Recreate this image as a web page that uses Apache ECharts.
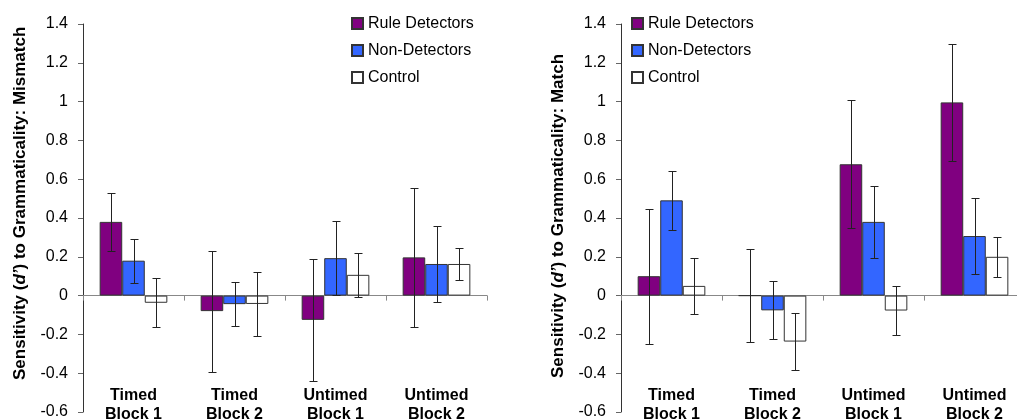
<!DOCTYPE html>
<html>
<head>
<meta charset="utf-8">
<script src="https://cdn.jsdelivr.net/npm/echarts@6/dist/echarts.min.js"></script>
<style>
html,body{margin:0;padding:0;background:#fff;}
#chart{width:1017px;height:419px;}
</style>
</head>
<body>
<div id="chart"></div>
<script>
// ---- data ----
var categories = ['Timed\nBlock 1', 'Timed\nBlock 2', 'Untimed\nBlock 1', 'Untimed\nBlock 2'];
var groups = ['Rule Detectors', 'Non-Detectors', 'Control'];
var yTicks = { min: -0.6, max: 1.4, interval: 0.2 };

// Mismatch (left panel)
var mismatchRule    = [0.38, -0.08, -0.125, 0.197];
var mismatchNon     = [0.18, -0.044, 0.193, 0.163];
var mismatchControl = [-0.037, -0.043, 0.107, 0.163];
var mismatchRuleErr    = [0.15, 0.312, 0.315, 0.357];
var mismatchNonErr     = [0.113, 0.113, 0.19, 0.195];
var mismatchControlErr = [0.127, 0.164, 0.115, 0.084];

// Match (right panel)
var matchRule    = [0.10, 0.0, 0.677, 0.996];
var matchNon     = [0.491, -0.076, 0.38, 0.307];
var matchControl = [0.05, -0.237, -0.077, 0.20];
var matchRuleErr    = [0.347, 0.238, 0.33, 0.30];
var matchNonErr     = [0.152, 0.15, 0.185, 0.194];
var matchControlErr = [0.146, 0.145, 0.125, 0.103];

var colors = ['#800080', '#3366FF', '#FFFFFF'];
var FONT = 'Liberation Sans, Arial, sans-serif';
var GAP = 0.33;

function errData(means, errs) {
  return means.map(function (m, i) { return [i, m - errs[i], m + errs[i]]; });
}

function errRender(idx) {
  return function (params, api) {
    var cat = api.value(0), lo = api.value(1), hi = api.value(2);
    var w = api.size([1, 0])[0] * (1 - GAP) / 3;
    var x = api.coord([cat, 0])[0] + (idx - 1) * w;
    x = Math.round(x) + 0.5;
    var yLo = Math.round(api.coord([cat, lo])[1]) + 0.5;
    var yHi = Math.round(api.coord([cat, hi])[1]) + 0.5;
    var cap = 4;
    var st = { stroke: '#222', lineWidth: 1 };
    return {
      type: 'group',
      children: [
        { type: 'line', shape: { x1: x, y1: yLo, x2: x, y2: yHi }, style: st },
        { type: 'line', shape: { x1: x - cap, y1: yHi, x2: x + cap, y2: yHi }, style: st },
        { type: 'line', shape: { x1: x - cap, y1: yLo, x2: x + cap, y2: yLo }, style: st }
      ]
    };
  };
}

// axis drawn on the zero line (line + ticks only)
function makeXLine(gi) {
  return {
    type: 'category', gridIndex: gi, data: categories,
    axisLine: { onZero: true, lineStyle: { color: '#888', width: 1 } },
    axisTick: { show: true, length: 5, lineStyle: { color: '#888' } },
    axisLabel: { show: false },
    splitLine: { show: false }
  };
}
// label-only axis near the bottom of the plot
function makeXLabels(gi) {
  return {
    type: 'category', gridIndex: gi, data: categories, position: 'bottom', offset: -26,
    axisLine: { show: false, onZero: false }, axisTick: { show: false },
    axisLabel: { show: true, interval: 0, hideOverlap: false, margin: 0, color: '#000',
      fontFamily: FONT, fontSize: 16, fontWeight: 'bold', lineHeight: 19 },
    splitLine: { show: false }
  };
}
function makeY(gi) {
  return {
    type: 'value', gridIndex: gi, min: yTicks.min, max: yTicks.max, interval: yTicks.interval,
    axisLine: { show: true, onZero: false, lineStyle: { color: '#333', width: 1 } },
    axisTick: { show: true, length: 5, lineStyle: { color: '#666' } },
    axisLabel: { margin: 15, color: '#000', fontFamily: FONT, fontSize: 16,
      formatter: function (v) { return String(Math.round(v * 10) / 10); } },
    splitLine: { show: false }
  };
}
function bars(gi, arrs) {
  return arrs.map(function (d, k) {
    return {
      type: 'bar', name: groups[k], xAxisIndex: gi, yAxisIndex: gi, data: d,
      barGap: '0%', barCategoryGap: (GAP * 100) + '%',
      itemStyle: { color: colors[k], borderColor: '#333', borderWidth: 1 },
      emphasis: { disabled: true }, animation: false
    };
  });
}
function errs(gi, means, es) {
  return means.map(function (m, k) {
    return {
      type: 'custom', name: 'err' + gi + k, xAxisIndex: gi, yAxisIndex: gi,
      renderItem: errRender(k), data: errData(m, es[k]), z: 5, animation: false, silent: true
    };
  });
}
function legend(left) {
  return {
    orient: 'vertical', left: left, top: 15, padding: 0, data: groups, itemWidth: 11, itemHeight: 11,
    itemGap: 10, icon: 'rect', selectedMode: false,
    textStyle: { fontFamily: FONT, fontSize: 16, color: '#000', lineHeight: 17 }
  };
}
var richT = {
  b: { fontFamily: FONT, fontSize: 17, fontWeight: 'bold', fill: '#000' },
  i: { fontFamily: FONT, fontSize: 17, fontWeight: 'bold', fontStyle: 'italic', fill: '#000' }
};

var chart = echarts.init(document.getElementById('chart'), null, { renderer: 'canvas' });
chart.setOption({
  animation: false,
  backgroundColor: '#fff',
  grid: [
    { left: 83, top: 24, width: 404, height: 388, outerBoundsMode: 'none' },
    { left: 621, top: 24, width: 404, height: 388, outerBoundsMode: 'none' }
  ],
  xAxis: [makeXLine(0), makeXLine(1), makeXLabels(0), makeXLabels(1)],
  yAxis: [makeY(0), makeY(1)],
  legend: [legend(351), legend(631)],
  graphic: [
    { type: 'text', x: 20, y: 380, rotation: Math.PI / 2,
      style: { text: '{b|Sensitivity (}{i|d’}{b|) to Grammaticality: Mismatch}', align: 'left', verticalAlign: 'middle', rich: richT } },
    { type: 'text', x: 558, y: 378, rotation: Math.PI / 2,
      style: { text: '{b|Sensitivity (}{i|d’}{b|) to Grammaticality: Match}', align: 'left', verticalAlign: 'middle', rich: richT } }
  ],
  series: []
    .concat(bars(0, [mismatchRule, mismatchNon, mismatchControl]))
    .concat(bars(1, [matchRule, matchNon, matchControl]))
    .concat(errs(0, [mismatchRule, mismatchNon, mismatchControl], [mismatchRuleErr, mismatchNonErr, mismatchControlErr]))
    .concat(errs(1, [matchRule, matchNon, matchControl], [matchRuleErr, matchNonErr, matchControlErr]))
});
</script>
</body>
</html>
